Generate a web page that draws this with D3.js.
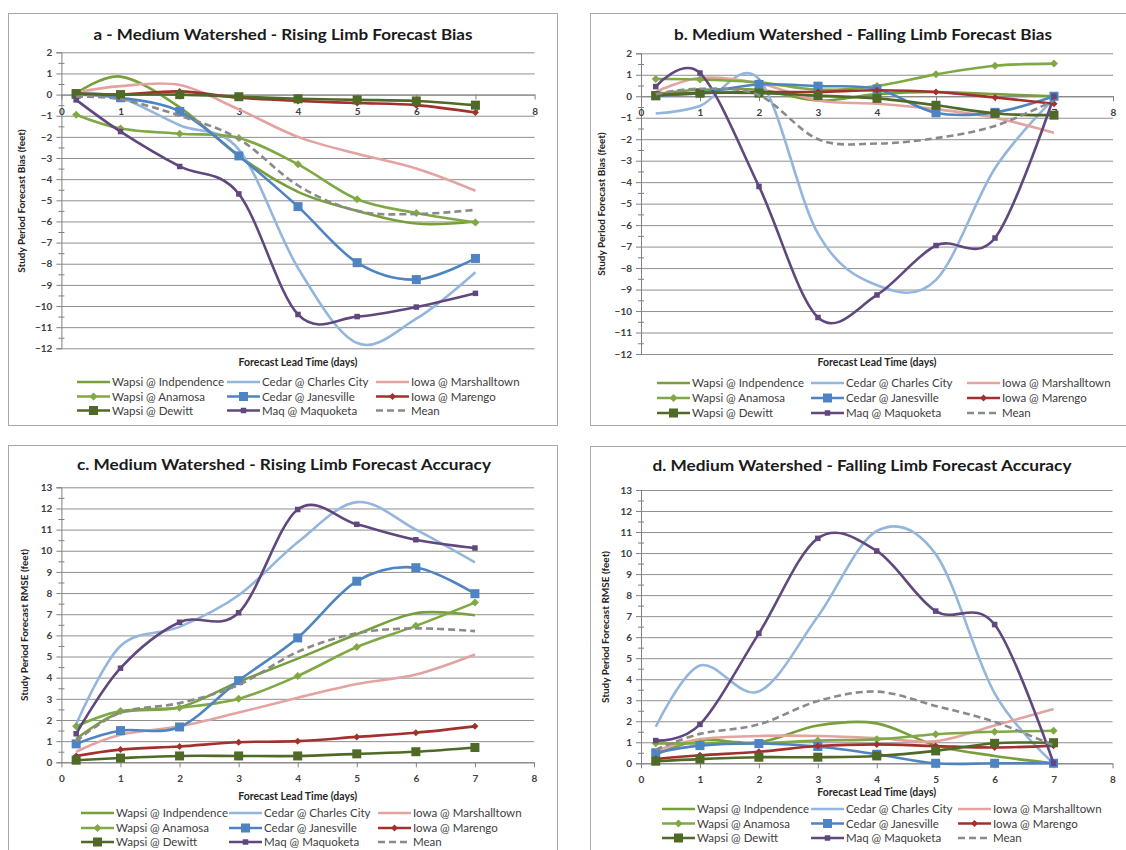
<!DOCTYPE html>
<html><head><meta charset="utf-8">
<script src="https://cdn.jsdelivr.net/npm/d3@7"></script>
<style>
body{margin:0;background:#fff;}
svg{display:block;font-family:Lato,"Open Sans",sans-serif;}
</style>
</head><body>
<svg id="chart" width="1126" height="850"></svg>
<script>
// ---------- DATA ----------
const leadTimeDays = [0.25, 1, 2, 3, 4, 5, 6, 7];
const seriesNames = [
  "Wapsi @ Indpendence", "Cedar @ Charles City", "Iowa @ Marshalltown",
  "Wapsi @ Anamosa", "Cedar @ Janesville", "Iowa @ Marengo",
  "Wapsi @ Dewitt", "Maq @ Maquoketa", "Mean"
];
const xTickLabels = [0, 1, 2, 3, 4, 5, 6, 7, 8];
const biasTickLabels = [-12, -11, -10, -9, -8, -7, -6, -5, -4, -3, -2, -1, 0, 1, 2];
const rmseTickLabels = [0, 1, 2, 3, 4, 5, 6, 7, 8, 9, 10, 11, 12, 13];

const panelTitles = [
  "a - Medium Watershed - Rising Limb Forecast Bias",
  "b. Medium Watershed - Falling Limb Forecast Bias",
  "c. Medium Watershed -  Rising Limb Forecast Accuracy",
  "d. Medium Watershed -  Falling Limb Forecast Accuracy"
];
const xAxisTitle = "Forecast Lead Time (days)";
const biasAxisTitle = "Study Period Forecast Bias (feet)";
const rmseAxisTitle = "Study Period Forecast RMSE (feet)";

// a - rising limb bias (feet), one row per series in seriesNames order
const risingBias = [
  [0.05, 0.85, -0.6, -2.9, -4.6, -5.5, -6.1, -6.0],
  [0.1, -0.15, -1.45, -2.6, -8.2, -11.75, -10.6, -8.4],
  [0.1, 0.4, 0.45, -0.7, -2.0, -2.8, -3.5, -4.55],
  [-0.95, -1.6, -1.85, -2.05, -3.3, -4.95, -5.6, -6.05],
  [0.0, -0.15, -0.8, -2.9, -5.3, -7.95, -8.75, -7.75],
  [0.05, 0.0, 0.15, -0.15, -0.3, -0.4, -0.5, -0.85],
  [0.05, 0.0, 0.0, -0.1, -0.2, -0.25, -0.3, -0.5],
  [-0.25, -1.75, -3.4, -4.7, -10.4, -10.5, -10.05, -9.4],
  [-0.1, -0.22, -1.0, -2.1, -4.3, -5.5, -5.65, -5.45]
];
// b - falling limb bias (feet)
const fallingBias = [
  [0.1, 0.3, 0.3, -0.2, 0.1, 0.2, 0.1, 0.0],
  [-0.8, -0.45, 0.8, -6.4, -8.8, -8.55, -3.35, -0.1],
  [0.2, 0.85, 0.6, -0.2, -0.35, -0.6, -1.0, -1.7],
  [0.8, 0.78, 0.65, 0.3, 0.48, 1.02, 1.42, 1.52],
  [0.02, 0.15, 0.55, 0.47, 0.34, -0.77, -0.75, 0.0],
  [0.05, 0.15, 0.2, 0.2, 0.28, 0.2, -0.06, -0.35],
  [0.03, 0.15, 0.15, 0.03, -0.1, -0.42, -0.8, -0.88],
  [0.45, 1.08, -4.2, -10.3, -9.25, -6.95, -6.6, 0.0],
  [0.1, 0.35, 0.05, -2.0, -2.2, -1.95, -1.38, -0.2]
];
// c - rising limb RMSE (feet)
const risingRmse = [
  [1.1, 2.35, 2.6, 3.8, 4.9, 6.05, 7.05, 6.95],
  [1.8, 5.5, 6.4, 7.9, 10.4, 12.3, 11.0, 9.45],
  [0.5, 1.3, 1.7, 2.35, 3.05, 3.7, 4.15, 5.1],
  [1.7, 2.42, 2.58, 3.0, 4.08, 5.45, 6.45, 7.55],
  [0.87, 1.5, 1.67, 3.86, 5.88, 8.56, 9.2, 7.97],
  [0.3, 0.6, 0.75, 0.95, 1.0, 1.2, 1.4, 1.7],
  [0.1, 0.2, 0.3, 0.3, 0.3, 0.4, 0.5, 0.7],
  [1.35, 4.45, 6.62, 7.07, 11.95, 11.25, 10.52, 10.13],
  [1.0, 2.35, 2.8, 3.66, 5.22, 6.1, 6.33, 6.2]
];
// d - falling limb RMSE (feet)
const fallingRmse = [
  [0.4, 1.1, 1.0, 1.8, 1.9, 0.85, 0.35, 0.0],
  [1.74, 4.65, 3.42, 6.98, 11.05, 9.95, 3.33, 0.0],
  [0.6, 1.15, 1.3, 1.3, 1.2, 1.05, 1.8, 2.58],
  [0.95, 0.95, 0.95, 1.08, 1.14, 1.38, 1.5, 1.55],
  [0.5, 0.84, 0.94, 0.8, 0.43, 0.0, 0.0, 0.0],
  [0.2, 0.38, 0.55, 0.82, 0.9, 0.82, 0.75, 0.84],
  [0.1, 0.2, 0.29, 0.29, 0.35, 0.59, 0.95, 0.98],
  [1.08, 1.85, 6.18, 10.7, 10.1, 7.24, 6.6, 0.0],
  [0.65, 1.4, 1.85, 2.96, 3.41, 2.73, 1.97, 0.85]
];

// ---------- STYLE ----------
const seriesStyle = [
  {color: "#77a03c", marker: null},
  {color: "#95b6dc", marker: null},
  {color: "#e3a3a1", marker: null},
  {color: "#80a844", marker: "diamond", size: 8},
  {color: "#4f84c2", marker: "square", size: 9},
  {color: "#a3302d", marker: "diamond", size: 7},
  {color: "#4f6a26", marker: "square", size: 9},
  {color: "#60487e", marker: "square", size: 5.5},
  {color: "#8a8a8a", marker: null, dash: "7,4"}
];

const panels = [
  {data: risingBias, ticks: biasTickLabels, domain: [-12, 2], title: panelTitles[0], yTitle: biasAxisTitle,
   box: [8, 13, 549, 412], x0: 61.4, x1: 534.6, yTop: 52.3, yBot: 348.3,
   titleX: 283, titleY: 35, titleW: 379, xTitleY: 362, yTitleX: 21, yTitleY: 201,
   legCols: [77, 227, 376], legRows: [382, 396.5, 410.5]},
  {data: fallingBias, ticks: biasTickLabels, domain: [-12, 2], title: panelTitles[1], yTitle: biasAxisTitle,
   box: [590, 13, 560, 412], x0: 641, x1: 1113, yTop: 53.3, yBot: 354,
   titleX: 863, titleY: 35, titleW: 378, xTitleY: 362, yTitleX: 601, yTitleY: 204,
   legCols: [657, 811, 967], legRows: [383, 398, 413]},
  {data: risingRmse, ticks: rmseTickLabels, domain: [0, 13], title: panelTitles[2], yTitle: rmseAxisTitle,
   box: [8, 445, 549, 420], x0: 61.4, x1: 534, yTop: 487.3, yBot: 762.3,
   titleX: 284, titleY: 465, titleW: 414, xTitleY: 796, yTitleX: 24, yTitleY: 625,
   legCols: [81, 229, 378], legRows: [813, 828, 842]},
  {data: fallingRmse, ticks: rmseTickLabels, domain: [0, 13], title: panelTitles[3], yTitle: rmseAxisTitle,
   box: [590, 446, 560, 420], x0: 641, x1: 1112.5, yTop: 490, yBot: 763.3,
   titleX: 862, titleY: 466, titleW: 419, xTitleY: 792, yTitleX: 605, yTitleY: 627,
   legCols: [662, 811, 958], legRows: [809, 823.5, 838]}
];

const svg = d3.select("#chart");
svg.append("rect").attr("width", 1126).attr("height", 850).attr("fill", "#fff");

function drawMarker(sel, st, cx, cy) {
  if (!st.marker) return;
  if (st.marker === "square") {
    sel.append("rect").attr("x", cx - st.size / 2).attr("y", cy - st.size / 2)
      .attr("width", st.size).attr("height", st.size).attr("fill", st.color);
  } else {
    const s = st.size / 2;
    sel.append("path").attr("d", `M${cx},${cy - s}L${cx + s},${cy}L${cx},${cy + s}L${cx - s},${cy}Z`)
      .attr("fill", st.color);
  }
}

panels.forEach(p => {
  const g = svg.append("g");
  g.append("rect").attr("x", p.box[0] + 0.5).attr("y", p.box[1] + 0.5)
    .attr("width", p.box[2]).attr("height", p.box[3])
    .attr("fill", "#fff").attr("stroke", "#a8a8a8").attr("stroke-width", 1);

  const x = d3.scaleLinear().domain([0, 8]).range([p.x0, p.x1]);
  const y = d3.scaleLinear().domain(p.domain).range([p.yBot, p.yTop]);

  // gridlines
  g.append("g").attr("transform", `translate(${p.x0},0)`)
    .call(d3.axisLeft(y).tickValues(p.ticks).tickSize(-(p.x1 - p.x0)).tickFormat(""))
    .call(a => a.select(".domain").remove())
    .call(a => a.selectAll("line").attr("stroke", "#8f8f8f").attr("stroke-width", 1));

  // minor ticks
  const minor = p.ticks.slice(0, -1).map(t => t + 0.5);
  g.append("g").attr("transform", `translate(${p.x0},0)`)
    .call(d3.axisLeft(y).tickValues(minor).tickSize(3).tickFormat(""))
    .call(a => a.select(".domain").remove())
    .call(a => a.selectAll("line").attr("x2", -3).attr("x1", 3).attr("stroke", "#808080"));

  // y axis
  g.append("g").attr("transform", `translate(${p.x0},0)`)
    .call(d3.axisLeft(y).tickValues(p.ticks).tickSize(5).tickPadding(4))
    .call(a => a.select(".domain").attr("stroke", "#808080"))
    .call(a => a.selectAll("line").attr("stroke", "#808080"))
    .call(a => a.selectAll("text").attr("font-family", "Lato").attr("font-size", 10)
      .attr("font-weight", "bold").attr("fill", "#404040"));

  // x axis at value 0
  g.append("g").attr("transform", `translate(0,${y(0)})`)
    .call(d3.axisBottom(x).tickValues(xTickLabels).tickSize(5).tickPadding(8).tickSizeOuter(0))
    .call(a => a.select(".domain").attr("stroke", "#808080"))
    .call(a => a.selectAll("line").attr("stroke", "#808080"))
    .call(a => a.selectAll("text").attr("font-family", "Lato").attr("font-size", 10)
      .attr("font-weight", "bold").attr("fill", "#404040"));

  // titles
  g.append("text").attr("x", p.titleX).attr("y", p.titleY).attr("dy", "0.35em")
    .attr("text-anchor", "middle").attr("font-size", 15).attr("font-weight", "bold")
    .attr("fill", "#1a1a1a").attr("textLength", p.titleW).attr("lengthAdjust", "spacingAndGlyphs")
    .text(p.title);
  g.append("text").attr("x", (p.x0 + p.x1) / 2).attr("y", p.xTitleY).attr("dy", "0.35em")
    .attr("text-anchor", "middle").attr("font-size", 10.5).attr("font-weight", "bold")
    .attr("fill", "#262626").text(xAxisTitle);
  g.append("text").attr("transform", `translate(${p.yTitleX},${p.yTitleY}) rotate(-90)`)
    .attr("dy", "0.35em").attr("text-anchor", "middle").attr("font-size", 10)
    .attr("font-weight", "bold").attr("fill", "#262626").text(p.yTitle);

  // series
  const line = d3.line().x((d, i) => x(leadTimeDays[i])).y(d => y(d))
    .curve(d3.curveCatmullRom.alpha(0));
  p.data.forEach((vals, si) => {
    const st = seriesStyle[si];
    const sg = g.append("g");
    sg.append("path").attr("d", line(vals)).attr("fill", "none")
      .attr("stroke", st.color).attr("stroke-width", 2.6)
      .attr("stroke-dasharray", st.dash || null)
      .attr("stroke-linejoin", "round");
    vals.forEach((v, i) => drawMarker(sg, st, x(leadTimeDays[i]), y(v)));
  });

  // legend
  seriesNames.forEach((name, si) => {
    const st = seriesStyle[si];
    const lx = p.legCols[si % 3], ly = p.legRows[Math.floor(si / 3)];
    const lg = g.append("g");
    lg.append("line").attr("x1", lx).attr("x2", lx + 33).attr("y1", ly).attr("y2", ly)
      .attr("stroke", st.color).attr("stroke-width", 2.6)
      .attr("stroke-dasharray", st.dash || null);
    drawMarker(lg, st, lx + 16.5, ly);
    lg.append("text").attr("x", lx + 35).attr("y", ly).attr("dy", "0.35em")
      .attr("font-size", 11.5).attr("fill", "#404040").text(name);
  });
});
</script>
</body></html>
